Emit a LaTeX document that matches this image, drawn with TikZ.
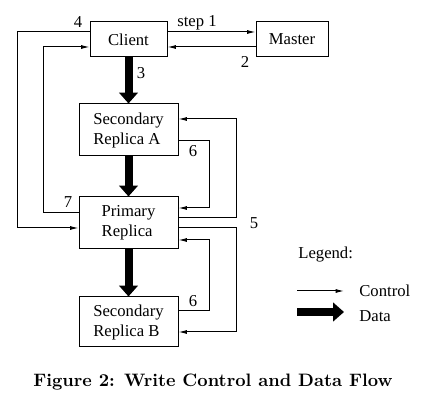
\documentclass[tikz,border=0pt]{standalone}
\usepackage{fontspec}
\newfontfamily\diagfont{Liberation Serif}
\usetikzlibrary{arrows.meta}

\begin{document}
\begin{tikzpicture}[x=0.6pt, y=-0.6pt,
  box/.style={draw, line width=0.6pt, inner sep=0pt, align=left, font=\diagfont},
  ctrl/.style={line width=0.6pt, -{Latex[length=5pt, width=2.4pt]}},
  data/.style={line width=4.8pt, -{Triangle[length=6.5pt, width=11pt]}},
  lbl/.style={font=\diagfont, inner sep=0pt}]
% Fix the page to the picture size
\useasboundingbox (0, 0) rectangle (430, 410);

% Boxes
\node[box, minimum width=46.2pt, minimum height=21pt] (client) at (128.5, 39.5) {Client};
\node[box, minimum width=43.2pt, minimum height=21pt] (master) at (292, 39.5) {Master};
\node[box, minimum width=59.4pt, minimum height=31.2pt] (secA) at (128.5, 130) {Secondary\\Replica A};
\node[box, minimum width=59.4pt, minimum height=31.2pt] (primary) at (128.5, 223) {Primary\\Replica};
\node[box, minimum width=59.4pt, minimum height=30pt] (secB) at (128.5, 322) {Secondary\\Replica B};

% Control flow between client and master
\draw[ctrl] (client.east |- 0, 32) -- (master.west |- 0, 32);
\draw[ctrl] (master.west |- 0, 47) -- (client.east |- 0, 47);
\node[lbl] (lstep) at (197, 23) {step 1};
\node[lbl] (ltwo) at (245, 62) {2};

% Client to primary and back
\draw[ctrl] (client.west |- 0, 32) -- (17, 32) |- (primary.west |- 0, 228);
\draw[ctrl] (primary.west |- 0, 213) -- (43, 213) |- (client.west |- 0, 47);
\node[lbl] (lfour) at (78, 22) {4};
\node[lbl] (lseven) at (68, 202) {7};

% Data flow
\draw[data] (client.south) -- (secA.north);
\draw[data] (secA.south) -- (primary.north);
\draw[data] (primary.south) -- (secB.north);
\node[lbl] (lthree) at (141, 73) {3};

% Primary to secondaries
\draw[ctrl] (primary.east |- 0, 218) -- (236, 218) |- (secA.east |- 0, 119);
\draw[ctrl] (primary.east |- 0, 228) -- (236, 228) |- (secB.east |- 0, 332);
\node[lbl] (lfive) at (254, 223) {5};

% Secondaries reply to primary
\draw[ctrl] (secA.east |- 0, 141) -- (209, 141) |- (primary.east |- 0, 208);
\draw[ctrl] (secB.east |- 0, 311) -- (209, 311) |- (primary.east |- 0, 240);
\node[lbl] (lsixA) at (193, 151) {6};
\node[lbl] (lsixB) at (193, 301) {6};

% Legend
\node[lbl, anchor=west] (legend) at (298, 255) {Legend:};
\coordinate (ctrlS) at (297, 291);
\coordinate (ctrlE) at (344, 291);
\coordinate (dataS) at (297, 312);
\coordinate (dataE) at (344, 312);
\draw[ctrl] (ctrlS) -- (ctrlE);
\draw[data] (dataS) -- (dataE);
\node[lbl, anchor=west] (lctrl) at (359, 291) {Control};
\node[lbl, anchor=west] (ldata) at (359, 316) {Data};

% Caption
\node[font=\fontsize{10.8}{13}\selectfont\bfseries, inner sep=0pt] (caption) at (213, 382) {Figure 2: Write Control and Data Flow};
\end{tikzpicture}
\end{document}
